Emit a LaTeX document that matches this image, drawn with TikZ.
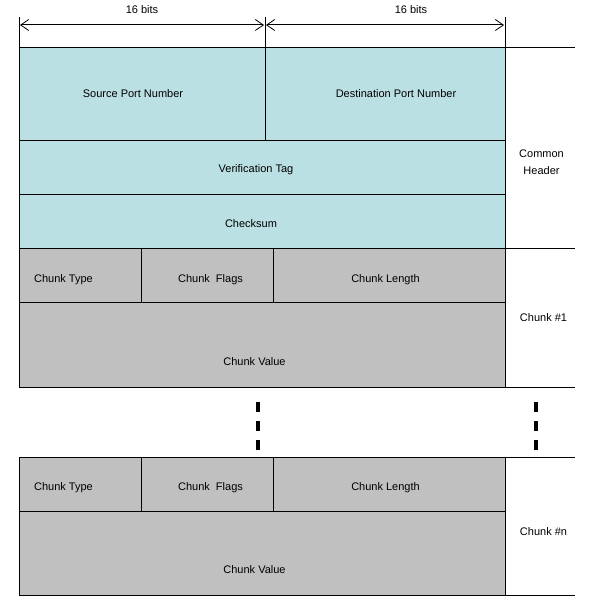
\documentclass[tikz,border=0pt]{standalone}
\usepackage{fontspec}
\setmainfont{Liberation Sans}
\usetikzlibrary{arrows.meta}
\definecolor{hdrcyan}{HTML}{BBE0E3}
\definecolor{chunkgray}{HTML}{C0C0C0}
\begin{document}
\begin{tikzpicture}[x=1pt,y=-1pt,
  cell/.style={draw=black, line width=1pt, inner sep=0pt, outer sep=0pt, anchor=north west},
  hdr/.style={cell, fill=hdrcyan},
  chk/.style={cell, fill=chunkgray},
  lbl/.style={inner sep=0pt, font=\fontsize{11}{13}\selectfont, text=black},
  rule/.style={line width=1pt},
  dim/.style={line width=1pt, {Straight Barb[length=8pt,width=11pt,line width=0.8pt]}-{Straight Barb[length=8pt,width=11pt,line width=0.8pt]}},
  dots/.style={line width=3.3pt, dash pattern=on 10pt off 9pt}
]
\useasboundingbox (0,0) rectangle (601,609);
% header
\node[hdr, minimum width=246pt, minimum height=93pt] (src) at (19,48) {};
\node[hdr, minimum width=240pt, minimum height=93pt] (dst) at (265,48) {};
\node[hdr, minimum width=486pt, minimum height=54pt] (ver) at (19,141) {};
\node[hdr, minimum width=486pt, minimum height=53pt] (cks) at (19,195) {};
% chunk 1
\node[chk, minimum width=122pt, minimum height=54pt] (atype) at (19,248) {};
\node[chk, minimum width=132pt, minimum height=54pt] (aflags) at (141,248) {};
\node[chk, minimum width=232pt, minimum height=54pt] (alen) at (273,248) {};
\node[chk, minimum width=486pt, minimum height=85pt] (aval) at (19,302) {};
% chunk n
\node[chk, minimum width=122pt, minimum height=54pt] (ntype) at (19,457) {};
\node[chk, minimum width=132pt, minimum height=54pt] (nflags) at (141,457) {};
\node[chk, minimum width=232pt, minimum height=54pt] (nlen) at (273,457) {};
\node[chk, minimum width=486pt, minimum height=84pt] (nval) at (19,511) {};
% labels
\node[lbl] (lsrc) at (133,94) {Source Port Number};
\node[lbl] (ldst) at (396,94) {Destination Port Number};
\node[lbl] (lver) at (256,170) {Verification Tag};
\node[lbl] (lcks) at (251,224) {Checksum};
\node[lbl] (latype) at (63.5,280) {Chunk Type};
\node[lbl] (laflags) at (210.5,280) {Chunk\ \ Flags};
\node[lbl] (lalen) at (385.5,280) {Chunk Length};
\node[lbl] (laval) at (254.5,362) {Chunk Value};
\node[lbl] (lntype) at (63.5,488) {Chunk Type};
\node[lbl] (lnflags) at (210.5,488) {Chunk\ \ Flags};
\node[lbl] (lnlen) at (385.5,488) {Chunk Length};
\node[lbl] (lnval) at (254.5,570) {Chunk Value};
\node[lbl, align=center, font=\fontsize{11}{17}\selectfont] (lcommon) at (541.5,162.5) {Common\\Header};
\node[lbl] (lc1) at (543.5,318) {Chunk \#1};
\node[lbl] (lcn) at (543.5,532) {Chunk \#n};
\node[lbl] (lb1) at (142,10) {16 bits};
\node[lbl] (lb2) at (411,10) {16 bits};
% ticks and dimension arrows
\coordinate (t1) at (19,17);
\coordinate (t2) at (265,17);
\coordinate (t3) at (505,17);
\coordinate (a1) at (20,25);
\coordinate (a2) at (264,25);
\coordinate (a3) at (266,25);
\coordinate (a4) at (504,25);
\draw[rule] (t1) -- (src.north west);
\draw[rule] (t2) -- (src.north east);
\draw[rule] (t3) -- (dst.north east);
\draw[dim] (a1) -- (a2);
\draw[dim] (a3) -- (a4);
% right-side rules
\coordinate (r1) at (575,48);
\coordinate (r2) at (575,248);
\coordinate (r3) at (575,387);
\coordinate (r4) at (575,457);
\coordinate (r5) at (575,595);
\draw[rule] (dst.north east) -- (r1);
\draw[rule] (cks.south east) -- (r2);
\draw[rule] (aval.south east) -- (r3);
\draw[rule] (nlen.north east) -- (r4);
\draw[rule] (nval.south east) -- (r5);
% continuation dashes
\coordinate (d1) at (258,402);
\coordinate (d2) at (258,451);
\coordinate (d3) at (536,402);
\coordinate (d4) at (536,451);
\draw[dots] (d1) -- (d2);
\draw[dots] (d3) -- (d4);
\end{tikzpicture}
\end{document}
